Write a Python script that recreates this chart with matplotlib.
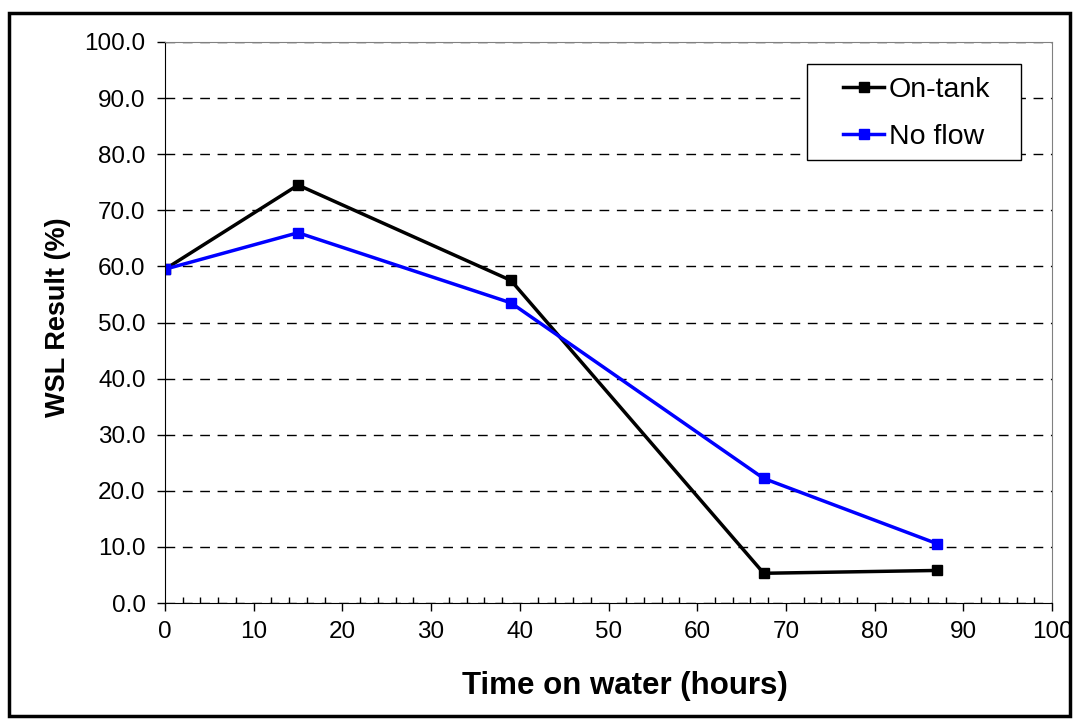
import numpy as np
import matplotlib.pyplot as plt
from matplotlib.patches import Rectangle
from matplotlib.ticker import MultipleLocator, FormatStrFormatter

plt.rcParams['font.family'] = ['Liberation Sans', 'DejaVu Sans']

# data
hours = [0, 15, 39, 67.5, 87]
on_tank = [59.5, 74.5, 57.5, 5.3, 5.8]
no_flow = [59.5, 66.0, 53.5, 22.2, 10.6]

W, H = 1079, 727
fig = plt.figure(figsize=(W / 100, H / 100), dpi=100)
ax = fig.add_axes([165 / W, 1 - 603 / H, (1052 - 165) / W, (603 - 42) / H])

# outer frame of the figure
fig.patches.append(Rectangle((9 / W, 11 / H), 1061 / W, 703 / H,
                             transform=fig.transFigure, fill=False,
                             edgecolor='black', linewidth=2.5))

ax.plot(hours, on_tank, color='black', lw=2.5, marker='s', ms=7.5, label='On-tank')
ax.plot(hours, no_flow, color='#0000ff', lw=2.5, marker='s', ms=7.5, label='No flow')

ax.set_xlim(0, 100)
ax.set_ylim(0, 100)
ax.xaxis.set_major_locator(MultipleLocator(10))
ax.xaxis.set_minor_locator(MultipleLocator(2))
ax.yaxis.set_major_locator(MultipleLocator(10))
ax.yaxis.set_major_formatter(FormatStrFormatter('%.1f'))

ax.grid(axis='y', which='major', color='black', linestyle=(0, (7, 5.5)), linewidth=1)
ax.set_axisbelow(True)

ax.tick_params(axis='x', which='major', direction='out', length=6, width=1, labelsize=17.5, pad=7)
ax.tick_params(axis='x', which='minor', direction='in', length=4.5, width=1)
ax.tick_params(axis='y', which='major', direction='out', length=6, width=1, labelsize=17.5, pad=8)

for side in ['top', 'right']:
    ax.spines[side].set_color('#808080')
for side in ['left', 'bottom']:
    ax.spines[side].set_color('black')

ax.set_xlabel('Time on water (hours)', fontsize=22.5, fontweight='bold')
ax.set_ylabel('WSL Result (%)', fontsize=19.5, fontweight='bold')
ax.xaxis.set_label_coords((625 - 165) / 887, (603 - 686) / 561)
ax.xaxis.label.set_va('center')
ax.yaxis.set_label_coords((58 - 165) / 887, (603 - 317.5) / 561)
ax.yaxis.label.set_va('center')

# legend: frame drawn separately to place it like the original
ax.add_patch(Rectangle((807 / W, 1 - 160 / H), (1021 - 807) / W, (160 - 64) / H,
                       transform=fig.transFigure, fill=True, facecolor='white',
                       edgecolor='black', linewidth=1, zorder=4, clip_on=False))
leg = ax.legend(loc='upper left', bbox_to_anchor=(843 / W, 1 - 77 / H),
                bbox_transform=fig.transFigure, fontsize=20.5, frameon=False,
                handlelength=1.45, handletextpad=0.15, borderpad=0,
                borderaxespad=0, labelspacing=0.72)
leg.set_zorder(6)

fig.savefig('out.png', dpi=100)
